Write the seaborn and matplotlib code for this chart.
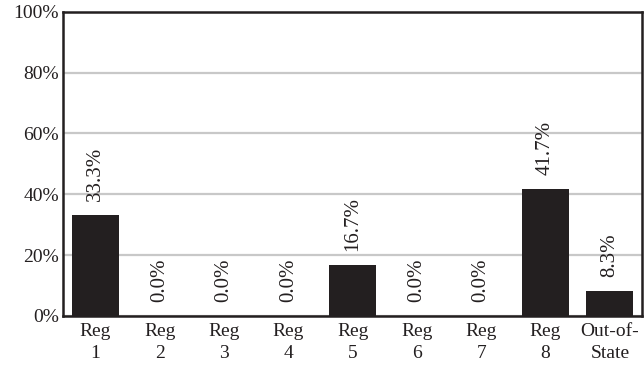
import numpy as np
import pandas as pd
import matplotlib
matplotlib.use("Agg")
import matplotlib.pyplot as plt
import seaborn as sns
from matplotlib.ticker import FixedLocator, PercentFormatter

# values
regions = ["Reg\n1", "Reg\n2", "Reg\n3", "Reg\n4", "Reg\n5",
           "Reg\n6", "Reg\n7", "Reg\n8", "Out-of-\nState"]
shares = [33.3, 0.0, 0.0, 0.0, 16.7, 0.0, 0.0, 41.7, 8.3]

df = pd.DataFrame({"region": regions, "share": shares})

sns.set_style("white")
plt.rcParams['font.family'] = ['Liberation Serif', 'DejaVu Serif']

fig = plt.figure(figsize=(6.44, 3.70), dpi=100)
ax = fig.add_axes([0.098, 0.146, 0.899, 0.822])

sns.barplot(x="region", y="share", data=df, color="#231f20",
            width=0.73, saturation=1, linewidth=0, ax=ax, zorder=3)

ax.set_ylim(0, 100)
ax.set_xlim(-0.5, len(regions) - 0.5)
ax.set_yticks(np.arange(0, 101, 20))
ax.yaxis.set_major_formatter(PercentFormatter(decimals=0))
ax.grid(axis='y', color="#c8c8c8", linewidth=1.6, zorder=0)
ax.set_xlabel("")
ax.set_ylabel("")

for sp in ax.spines.values():
    sp.set_color("#231f20")
    sp.set_linewidth(1.8)

# little ticks between the categories
ax.xaxis.set_major_locator(FixedLocator(range(len(regions))))
ax.xaxis.set_minor_locator(FixedLocator(np.arange(0.5, len(regions) - 1, 1)))
ax.tick_params(axis='x', which='major', length=0, labelsize=14, pad=5)
ax.tick_params(axis='x', which='minor', length=5, width=1.6, direction='in',
               color="#231f20")
ax.tick_params(axis='y', length=0, labelsize=14, pad=3, colors="#231f20")
for t in ax.get_xticklabels():
    t.set_linespacing(1.4)
    t.set_color("#231f20")

for i, v in enumerate(shares):
    ax.annotate(f"{v:.1f}%", (i, v), xytext=(0, 10), textcoords="offset points",
                rotation=90, ha='center', va='bottom',
                fontsize=15, color="#231f20", zorder=4)

fig.savefig("out.png", dpi=100)
